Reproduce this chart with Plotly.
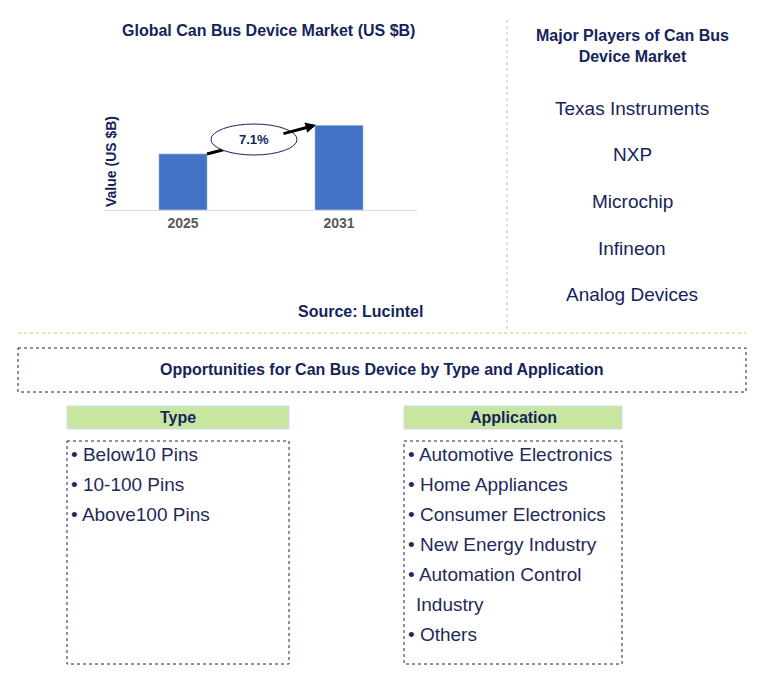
import plotly.graph_objects as go

W, H = 765, 689
years = ["2025", "2031"]
values = [1.0, 1.51]
cagr = "7.1%"
players = ["Texas Instruments", "NXP", "Microchip", "Infineon", "Analog Devices"]
types = ["Below10 Pins", "10-100 Pins", "Above100 Pins"]
applications = ["Automotive Electronics", "Home Appliances", "Consumer Electronics",
                "New Energy Industry", "Automation Control<br> Industry", "Others"]

NAVY = "#14245a"
OFF = 8  # page body margin


def px(x):
    return (x - OFF) / W


def py(y):
    return 1 - (y - OFF) / H


fig = go.Figure()
fig.add_trace(go.Bar(x=years, y=values, marker_color="#4472c4", width=0.31))

fig.update_layout(
    width=W, height=H, margin=dict(l=0, r=0, t=0, b=0),
    plot_bgcolor="white", paper_bgcolor="white", showlegend=False,
    font=dict(family="Liberation Sans, Arial", color=NAVY),
    xaxis=dict(domain=[px(105), px(417)], showline=True, linecolor="#d9d9d9",
               tickfont=dict(size=14, color="#595959", family="Liberation Sans"),
               tickprefix="<b>", ticksuffix="</b>", ticks="", fixedrange=True),
    yaxis=dict(domain=[py(210), py(110)], range=[0, 1.78], showticklabels=False,
               showgrid=False, zeroline=False),
)

shapes = []
ann = []

def text(x, y, s, size=13, bold=False, color=NAVY, anchor="center"):
    ann.append(dict(x=px(x), y=py(y), xref="paper", yref="paper", text=f"<b>{s}</b>" if bold else s,
                    showarrow=False, xanchor=anchor, yanchor="middle",
                    font=dict(size=size, color=color), align="left" if anchor == "left" else "center"))

def rect(x0, y0, x1, y1, line=NAVY, fill=None, dash="dot"):
    shapes.append(dict(type="rect", xref="paper", yref="paper", x0=px(x0), x1=px(x1),
                       y0=py(y0), y1=py(y1), line=dict(color=line, width=1, dash=dash),
                       fillcolor=fill, layer="below"))

text(268, 30, "Global Can Bus Device Market (US $B)", 16, True)
text(360, 311, "Source: Lucintel", 16, True)
ann.append(dict(x=px(111), y=py(162), xref="paper", yref="paper", text="<b>Value (US $B)</b>",
                showarrow=False, textangle=-90, xanchor="center", yanchor="middle",
                font=dict(size=14, color=NAVY)))

# growth arrow and ellipse
shapes.append(dict(type="line", xref="paper", yref="paper", x0=px(207), x1=px(230),
                   y0=py(154), y1=py(148), line=dict(color="black", width=3)))
ann.append(dict(x=px(316), y=py(125), ax=-34, ay=9, xref="paper", yref="paper",
                showarrow=True, arrowhead=2, arrowsize=0.7,
                arrowwidth=3, arrowcolor="black", text=""))
shapes.append(dict(type="circle", xref="paper", yref="paper", x0=px(211), x1=px(297),
                   y0=py(124), y1=py(155), line=dict(color=NAVY, width=1), fillcolor="white"))
text(254, 139, cagr, 13, True)

# separators
shapes.append(dict(type="line", xref="paper", yref="paper", x0=px(507), x1=px(507),
                   y0=py(20), y1=py(330), line=dict(color="#bfbfbf", width=1, dash="dot")))
shapes.append(dict(type="line", xref="paper", yref="paper", x0=px(18), x1=px(746),
                   y0=py(333), y1=py(333), line=dict(color="#f0c040", width=1, dash="dot")))

text(632, 46, "Major Players of Can Bus<br>Device Market", 16, True)
for i, p in enumerate(players):
    text(632, 108 + i * 46.7, p, 19)

rect(18, 348, 746, 392)
text(382, 370, "Opportunities for Can Bus Device by Type and Application", 16, True)

rect(67, 406, 289, 429, line="#c5dfef", fill="#c9e6a1", dash="solid")
rect(404, 406, 622, 429, line="#c5dfef", fill="#c9e6a1", dash="solid")
text(178, 417, "Type", 16, True)
text(513, 417, "Application", 16, True)

rect(67, 441, 289, 664)
rect(404, 441, 622, 664)
for i, t in enumerate(types):
    text(69, 454 + i * 30, "• " + t, 19, color="#1f2a5a", anchor="left")
row = 0
for a in applications:
    if "<br>" in a:
        first, second = a.split("<br>")
        text(406, 574, "• " + first, 19, color="#1f2a5a", anchor="left")
        text(414, 604, second.strip(), 19, color="#1f2a5a", anchor="left")
        row += 2
    else:
        text(406, 454 + row * 30, "• " + a, 19, color="#1f2a5a", anchor="left")
        row += 1

fig.update_layout(shapes=shapes, annotations=ann)
fig.write_html("out.html")
